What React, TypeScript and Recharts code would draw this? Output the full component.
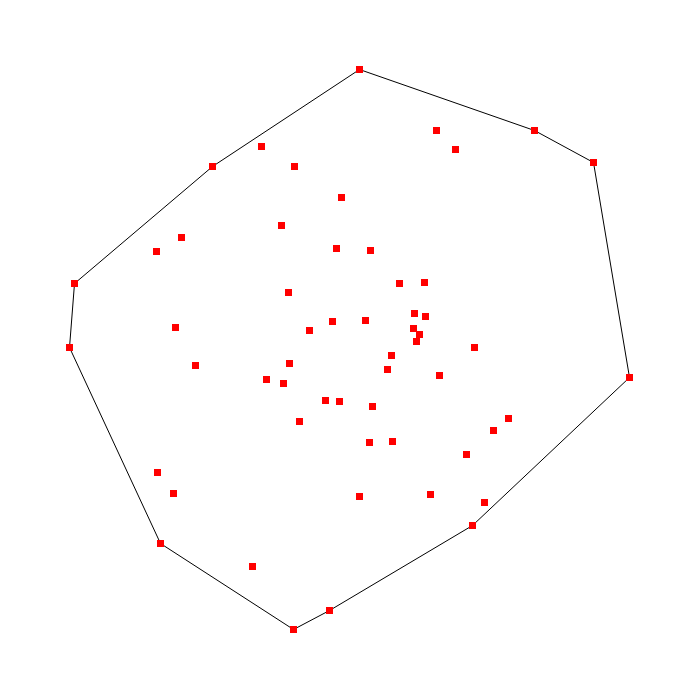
import { Scatter, ScatterChart, XAxis, YAxis } from "recharts";

// Hull vertices in drawing order (pixel-space coordinates, y grows downward)
const hullX = [359, 534, 593, 629, 472, 329, 293, 160, 69, 74, 212];
const hullY = [69, 130, 162, 377, 525, 610, 629, 543, 347, 283, 166];

// Points strictly inside the hull
const innerX = [
  436, 455, 261, 294, 341, 281, 181, 156, 336, 370, 399, 424, 288, 414, 425,
  332, 365, 309, 413, 419, 416, 175, 474, 391, 289, 195, 387, 439, 266, 283,
  325, 339, 372, 508, 493, 299, 369, 392, 466, 157, 173, 359, 430, 484, 252,
];
const innerY = [
  130, 149, 146, 166, 197, 225, 237, 251, 248, 250, 283, 282, 292, 313, 316,
  321, 320, 330, 328, 334, 341, 327, 347, 355, 363, 365, 369, 375, 379, 383,
  400, 401, 406, 418, 430, 421, 442, 441, 454, 472, 493, 496, 494, 502, 566,
];

const hull = hullX.map((x, i) => ({ x, y: hullY[i] }));
const hullClosed = [...hull, hull[0]];
const points = [...hull, ...innerX.map((x, i) => ({ x, y: innerY[i] }))];

// 7px crisp square centred on the pixel that holds (cx, cy)
const Square = (props: any) => {
  const { cx, cy } = props;
  if (cx == null || cy == null) return null;
  return (
    <rect
      x={Math.floor(cx) - 3}
      y={Math.floor(cy) - 3}
      width={7}
      height={7}
      fill="#ff0000"
      shapeRendering="crispEdges"
    />
  );
};

const NoShape = () => null;

export default function App() {
  return (
    <div style={{ width: 700, height: 700, background: "#fff" }}>
      <style>{"body{margin:0}"}</style>
      <ScatterChart width={700} height={700} margin={{ top: 0, right: 0, bottom: 0, left: 0 }}>
        <XAxis type="number" dataKey="x" domain={[-0.5, 699.5]} hide />
        <YAxis type="number" dataKey="y" domain={[-0.5, 699.5]} reversed hide />
        <Scatter
          data={hullClosed}
          line={{ stroke: "#000", strokeWidth: 1 }}
          shape={NoShape}
          isAnimationActive={false}
        />
        <Scatter data={points} shape={Square} isAnimationActive={false} />
      </ScatterChart>
    </div>
  );
}
